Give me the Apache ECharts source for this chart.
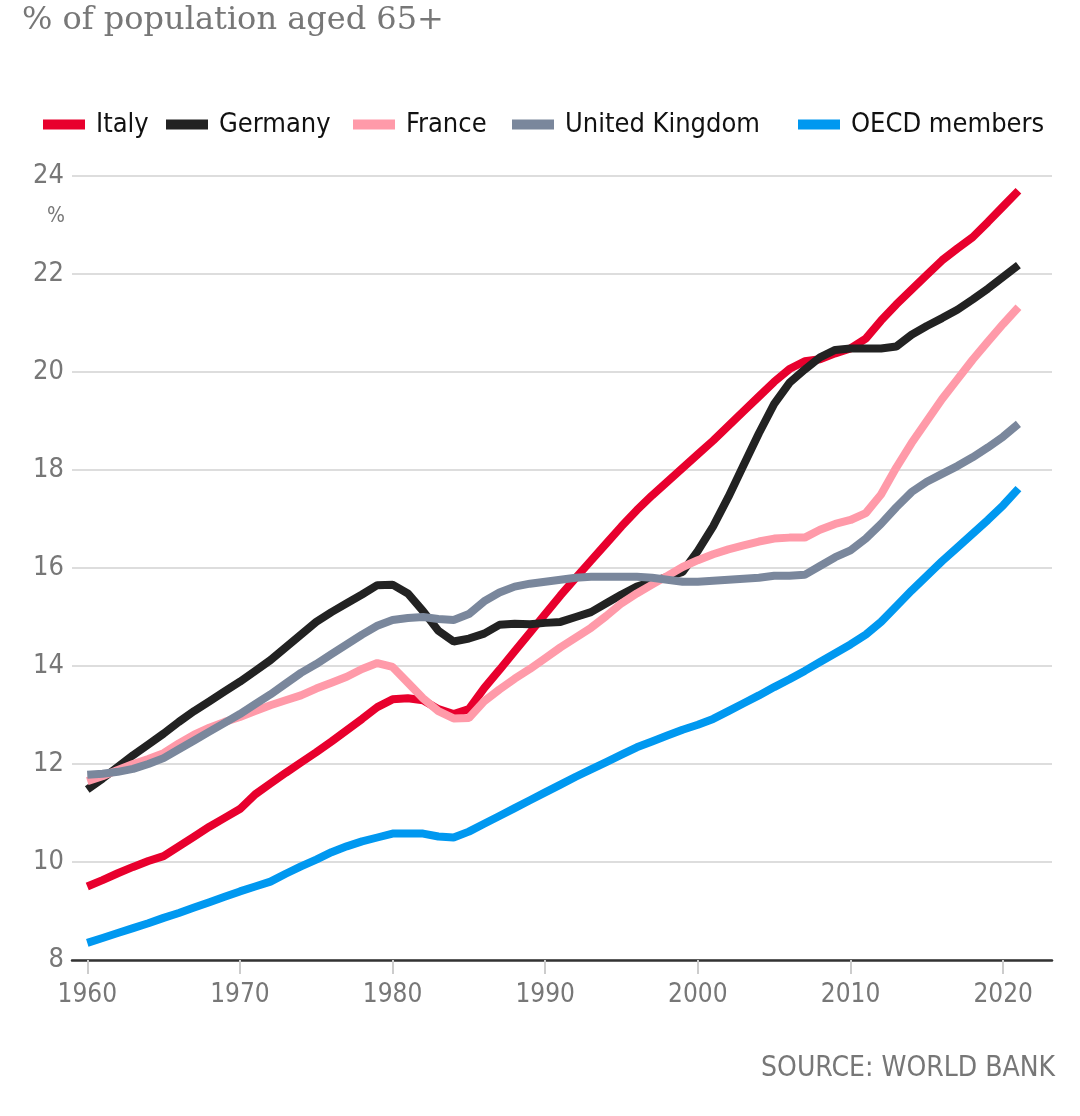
<!DOCTYPE html>
<html>
<head>
<meta charset="utf-8">
<script src="https://cdn.jsdelivr.net/npm/echarts@6/dist/echarts.min.js"></script>
<style>
  html, body { margin: 0; padding: 0; background: #fff; }
  #chart { width: 1080px; height: 1116px; }
</style>
</head>
<body>
<div id="chart"></div>
<script>
// years 1960..2021
var years = [];
for (var y = 1960; y <= 2021; y++) years.push(y);

var italy = [
  9.50, 9.63, 9.77, 9.90, 10.02, 10.12, 10.32, 10.52, 10.72, 10.90,
  11.08, 11.38, 11.60, 11.82, 12.03, 12.24, 12.46, 12.69, 12.92, 13.16,
  13.32, 13.34, 13.30, 13.12, 13.02, 13.12, 13.55, 13.92, 14.30, 14.68,
  15.06, 15.44, 15.80, 16.15, 16.50, 16.85, 17.18, 17.48, 17.76, 18.04,
  18.32, 18.60, 18.90, 19.20, 19.50, 19.80, 20.06, 20.22, 20.26, 20.38,
  20.48, 20.68, 21.05, 21.38, 21.68, 21.98, 22.28, 22.52, 22.75, 23.06,
  23.38, 23.70
];
var germany = [
  11.48, 11.70, 11.94, 12.18, 12.40, 12.62, 12.86, 13.08, 13.28, 13.48,
  13.68, 13.90, 14.12, 14.38, 14.64, 14.90, 15.10, 15.28, 15.46, 15.65,
  15.66, 15.48, 15.12, 14.72, 14.50, 14.56, 14.66, 14.84, 14.86, 14.85,
  14.88, 14.90, 15.00, 15.10, 15.28, 15.46, 15.62, 15.72, 15.82, 15.92,
  16.35, 16.85, 17.45, 18.10, 18.75, 19.35, 19.78, 20.05, 20.30, 20.45,
  20.48, 20.48, 20.48, 20.52, 20.76, 20.94, 21.10, 21.27, 21.48, 21.70,
  21.94, 22.18
];
var france = [
  11.65, 11.75, 11.88, 12.00, 12.10, 12.22, 12.42, 12.60, 12.74, 12.86,
  12.96, 13.08, 13.20, 13.30, 13.40, 13.54, 13.66, 13.78, 13.94, 14.06,
  13.98, 13.66, 13.34, 13.08, 12.93, 12.94, 13.28, 13.52, 13.74, 13.94,
  14.16, 14.38, 14.58, 14.78, 15.02, 15.28, 15.48, 15.66, 15.84, 16.02,
  16.16, 16.28, 16.38, 16.46, 16.54, 16.60, 16.62, 16.62, 16.78, 16.90,
  16.98, 17.12, 17.50, 18.05, 18.55, 19.00, 19.45, 19.85, 20.25, 20.62,
  20.98, 21.32
];
var uk = [
  11.78, 11.80, 11.84, 11.90, 12.00, 12.12, 12.30, 12.48, 12.66, 12.84,
  13.02, 13.22, 13.42, 13.64, 13.86, 14.04, 14.24, 14.44, 14.64, 14.82,
  14.94, 14.98, 15.00, 14.96, 14.94, 15.06, 15.32, 15.50, 15.62, 15.68,
  15.72, 15.76, 15.80, 15.82, 15.82, 15.82, 15.82, 15.80, 15.76, 15.72,
  15.72, 15.74, 15.76, 15.78, 15.80, 15.84, 15.84, 15.86, 16.04, 16.22,
  16.36, 16.60, 16.90, 17.24, 17.55, 17.76, 17.92, 18.08, 18.26, 18.46,
  18.68, 18.94
];
var oecd = [
  8.35, 8.45, 8.55, 8.65, 8.75, 8.86, 8.96, 9.07, 9.18, 9.29,
  9.40, 9.50, 9.60, 9.76, 9.91, 10.05, 10.20, 10.32, 10.42, 10.50,
  10.58, 10.58, 10.58, 10.52, 10.50, 10.62, 10.78, 10.94, 11.10, 11.26,
  11.42, 11.58, 11.74, 11.89, 12.04, 12.19, 12.34, 12.46, 12.58, 12.70,
  12.80, 12.92, 13.08, 13.24, 13.40, 13.57, 13.73, 13.90, 14.08, 14.26,
  14.44, 14.64, 14.90, 15.22, 15.54, 15.84, 16.14, 16.42, 16.70, 16.98,
  17.28, 17.62
];

var xTicks = [1960, 1970, 1980, 1990, 2000, 2010, 2020];
var names = ["Italy", "Germany", "France", "United Kingdom", "OECD members"];
var colors = ["#e8002d", "#222222", "#ff9aa9", "#7a879c", "#0098f0"];
var allData = [italy, germany, france, uk, oecd];
var legendLeft = [38, 161, 348, 507, 793];

var sansFont = "DejaVu Sans Condensed";
var grey = "#777777";

function pairs(arr) {
  return arr.map(function (v, i) { return [years[i], v]; });
}

var chart = echarts.init(document.getElementById("chart"));

// one legend per item so each can sit where the reference has it
var legends = names.map(function (n, i) {
  return {
    data: [n],
    left: legendLeft[i],
    top: 106,
    icon: "rect",
    itemWidth: 42,
    itemHeight: 10,
    selectedMode: false,
    textStyle: { fontFamily: sansFont, fontSize: 27, color: "#111", padding: [0, 0, 0, 6] }
  };
});

var series = names.map(function (n, i) {
  return {
    name: n,
    type: "line",
    data: pairs(allData[i]),
    showSymbol: false,
    symbol: "none",
    lineStyle: { width: 8, color: colors[i] },
    itemStyle: { color: colors[i] },
    z: 2 + i
  };
});

var option = {
  animation: false,
  backgroundColor: "#fff",
  legend: legends,
  grid: { left: 72, top: 176, width: 980, height: 784, containLabel: false },
  xAxis: {
    type: "value",
    min: 1959,
    max: 2023.2,
    axisLine: { show: true, lineStyle: { color: "#333", width: 2.5 } },
    axisTick: {
      show: true, length: 14, customValues: xTicks,
      lineStyle: { color: "#cccccc", width: 2 }
    },
    axisLabel: {
      customValues: xTicks,
      margin: 22,
      fontFamily: sansFont, fontSize: 26, color: grey,
      formatter: function (v) { return String(v); }
    },
    splitLine: { show: false }
  },
  yAxis: {
    type: "value",
    min: 8,
    max: 24,
    interval: 2,
    axisLine: { show: false },
    axisTick: { show: false },
    axisLabel: { margin: 8, fontFamily: sansFont, fontSize: 27, color: grey },
    splitLine: { lineStyle: { color: "#dddddd", width: 2 } }
  },
  graphic: [
    {
      type: "text", left: 22, top: 5,
      style: { text: "% of population aged 65+", font: "32px 'DejaVu Serif'", fill: "#777" }
    },
    {
      type: "text", right: 1080 - 65, top: 206,
      style: { text: "%", font: "21px '" + sansFont + "'", fill: grey, textAlign: "right" }
    },
    {
      type: "text", right: 25, top: 1055,
      style: { text: "SOURCE: WORLD BANK", font: "28px '" + sansFont + "'", fill: grey }
    }
  ],
  series: series
};

chart.setOption(option);
</script>
</body>
</html>
